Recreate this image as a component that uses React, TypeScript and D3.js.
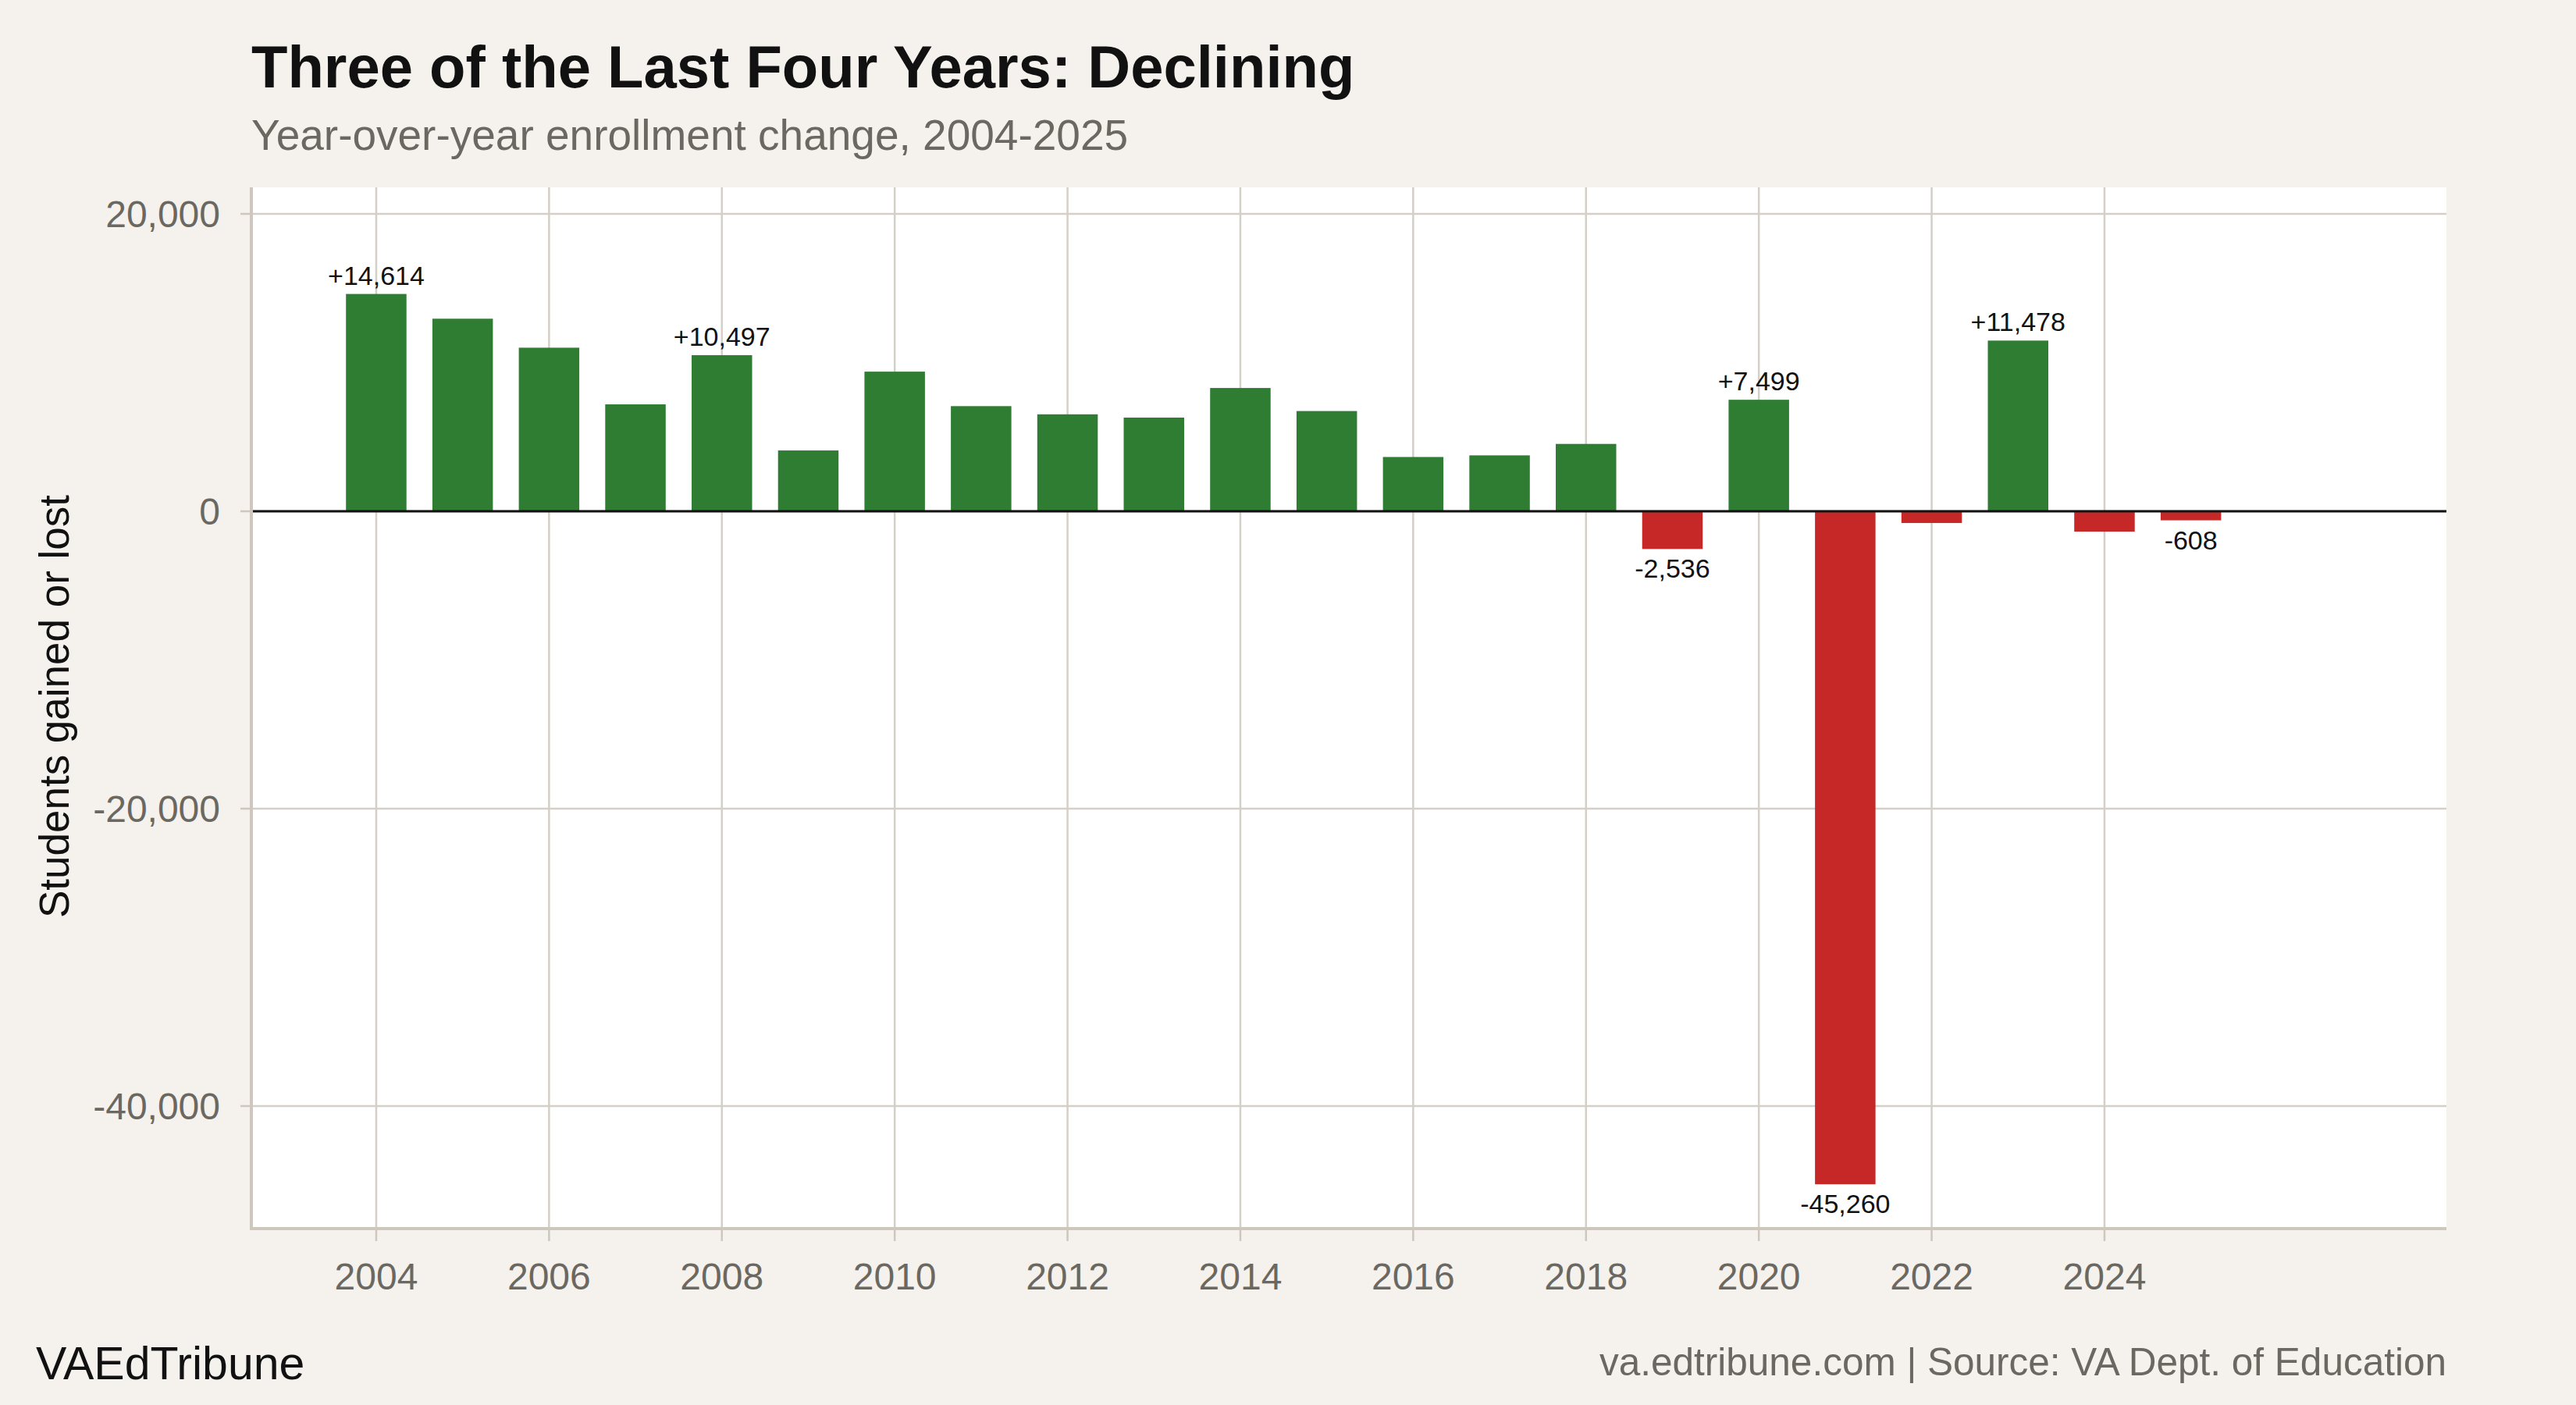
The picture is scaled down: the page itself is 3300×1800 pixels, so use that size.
import { useEffect, useRef } from 'react';
import * as d3 from 'd3';

// Year-over-year enrollment change
const years = [
  2004, 2005, 2006, 2007, 2008, 2009, 2010, 2011, 2012, 2013, 2014,
  2015, 2016, 2017, 2018, 2019, 2020, 2021, 2022, 2023, 2024, 2025,
];
const changes = [
  14614, 12950, 11000, 7190, 10497, 4090, 9390, 7070, 6520, 6300, 8290,
  6740, 3650, 3760, 4530, -2536, 7499, -45260, -790, 11478, -1370, -608,
];
// years that carry a value label
const labelledYears = [2004, 2008, 2019, 2020, 2021, 2023, 2025];
const xTicks = [2004, 2006, 2008, 2010, 2012, 2014, 2016, 2018, 2020, 2022, 2024];
const yTicks = [20000, 0, -20000, -40000];

const W = 3300;
const H = 1800;
const FONT = 'Liberation Sans, Arial, Helvetica, sans-serif';
const BG = '#f5f2ed';
const GRID = '#d4cfc7';
const MUTED = '#6b6862';
const GREEN = '#2f7d33';
const RED = '#c62828';

// plain hyphen instead of d3's unicode minus
const num = (v: number) => d3.format(',')(v).replace('\u2212', '-');

export default function App() {
  const svgRef = useRef<SVGSVGElement>(null);

  useEffect(() => {
    document.body.style.margin = '0';
    if (!svgRef.current) return;
    const svg = d3.select(svgRef.current);
    svg.selectAll('*').remove();

    const panel = { left: 322, right: 3134, top: 240, bottom: 1572 };

    const x = d3.scaleLinear().domain([2002.555, 2027.957]).range([panel.left, panel.right]);
    const y = d3.scaleLinear().domain([-48136, 21785]).range([panel.bottom, panel.top]);
    const barW = x(2004.7) - x(2004);

    svg.append('rect').attr('width', W).attr('height', H).attr('fill', BG);

    // panel
    svg
      .append('rect')
      .attr('x', panel.left)
      .attr('y', panel.top)
      .attr('width', panel.right - panel.left)
      .attr('height', panel.bottom - panel.top)
      .attr('fill', '#ffffff');

    // grid
    svg
      .selectAll('.vgrid')
      .data(xTicks)
      .enter()
      .append('line')
      .attr('x1', (d) => x(d))
      .attr('x2', (d) => x(d))
      .attr('y1', panel.top)
      .attr('y2', panel.bottom)
      .attr('stroke', GRID)
      .attr('stroke-width', 2.5);

    svg
      .selectAll('.hgrid')
      .data(yTicks)
      .enter()
      .append('line')
      .attr('x1', panel.left)
      .attr('x2', panel.right)
      .attr('y1', (d) => y(d))
      .attr('y2', (d) => y(d))
      .attr('stroke', GRID)
      .attr('stroke-width', 2.5);

    // bars
    const data = years.map((yr, i) => ({ year: yr, value: changes[i] }));
    svg
      .selectAll('.bar')
      .data(data)
      .enter()
      .append('rect')
      .attr('x', (d) => x(d.year) - barW / 2)
      .attr('width', barW)
      .attr('y', (d) => (d.value >= 0 ? y(d.value) : y(0)))
      .attr('height', (d) => Math.abs(y(d.value) - y(0)))
      .attr('fill', (d) => (d.value >= 0 ? GREEN : RED));

    // zero line
    svg
      .append('line')
      .attr('x1', panel.left)
      .attr('x2', panel.right)
      .attr('y1', y(0))
      .attr('y2', y(0))
      .attr('stroke', '#111111')
      .attr('stroke-width', 3);

    // value labels
    svg
      .selectAll('.lbl')
      .data(data.filter((d) => labelledYears.includes(d.year)))
      .enter()
      .append('text')
      .attr('x', (d) => x(d.year))
      .attr('y', (d) => (d.value >= 0 ? y(d.value) - 12 : y(d.value) + 37))
      .attr('text-anchor', 'middle')
      .attr('font-family', FONT)
      .attr('font-size', 34)
      .attr('fill', '#111111')
      .text((d) => (d.value >= 0 ? '+' : '-') + num(Math.abs(d.value)));

    // axis lines
    svg
      .append('line')
      .attr('x1', panel.left)
      .attr('x2', panel.left)
      .attr('y1', panel.top)
      .attr('y2', panel.bottom + 2)
      .attr('stroke', '#cdc7bd')
      .attr('stroke-width', 4);
    svg
      .append('line')
      .attr('x1', panel.left - 2)
      .attr('x2', panel.right)
      .attr('y1', panel.bottom + 2)
      .attr('y2', panel.bottom + 2)
      .attr('stroke', '#cdc7bd')
      .attr('stroke-width', 4);

    // x ticks + labels
    const xt = svg.selectAll('.xt').data(xTicks).enter().append('g');
    xt.append('line')
      .attr('x1', (d) => x(d))
      .attr('x2', (d) => x(d))
      .attr('y1', panel.bottom + 4)
      .attr('y2', panel.bottom + 18)
      .attr('stroke', '#cdc7bd')
      .attr('stroke-width', 2.5);
    xt.append('text')
      .attr('x', (d) => x(d))
      .attr('y', 1652)
      .attr('text-anchor', 'middle')
      .attr('font-family', FONT)
      .attr('font-size', 48)
      .attr('fill', MUTED)
      .text((d) => String(d));

    // y ticks + labels
    const yt = svg.selectAll('.yt').data(yTicks).enter().append('g');
    yt.append('line')
      .attr('x1', panel.left - 14)
      .attr('x2', panel.left - 2)
      .attr('y1', (d) => y(d))
      .attr('y2', (d) => y(d))
      .attr('stroke', '#cdc7bd')
      .attr('stroke-width', 2.5);
    yt.append('text')
      .attr('x', 282)
      .attr('y', (d) => y(d))
      .attr('dy', '0.36em')
      .attr('text-anchor', 'end')
      .attr('font-family', FONT)
      .attr('font-size', 48)
      .attr('fill', MUTED)
      .text((d) => num(d));

    // y axis title
    svg
      .append('text')
      .attr('transform', `translate(88,905) rotate(-90)`)
      .attr('text-anchor', 'middle')
      .attr('font-family', FONT)
      .attr('font-size', 53)
      .attr('fill', '#111111')
      .text('Students gained or lost');

    // title block
    svg
      .append('text')
      .attr('x', 322)
      .attr('y', 112)
      .attr('font-family', FONT)
      .attr('font-size', 76)
      .attr('font-weight', 'bold')
      .attr('fill', '#111111')
      .text('Three of the Last Four Years: Declining');
    svg
      .append('text')
      .attr('x', 322)
      .attr('y', 192)
      .attr('font-family', FONT)
      .attr('font-size', 55)
      .attr('fill', MUTED)
      .text('Year-over-year enrollment change, 2004-2025');

    // footer
    svg
      .append('text')
      .attr('x', 46)
      .attr('y', 1767)
      .attr('font-family', FONT)
      .attr('font-size', 59)
      .attr('fill', '#111111')
      .text('VAEdTribune');
    svg
      .append('text')
      .attr('x', 3134)
      .attr('y', 1762)
      .attr('text-anchor', 'end')
      .attr('font-family', FONT)
      .attr('font-size', 49.5)
      .attr('fill', MUTED)
      .text('va.edtribune.com | Source: VA Dept. of Education');
  }, []);

  return <svg ref={svgRef} width={W} height={H} style={{ display: 'block' }} />;
}
